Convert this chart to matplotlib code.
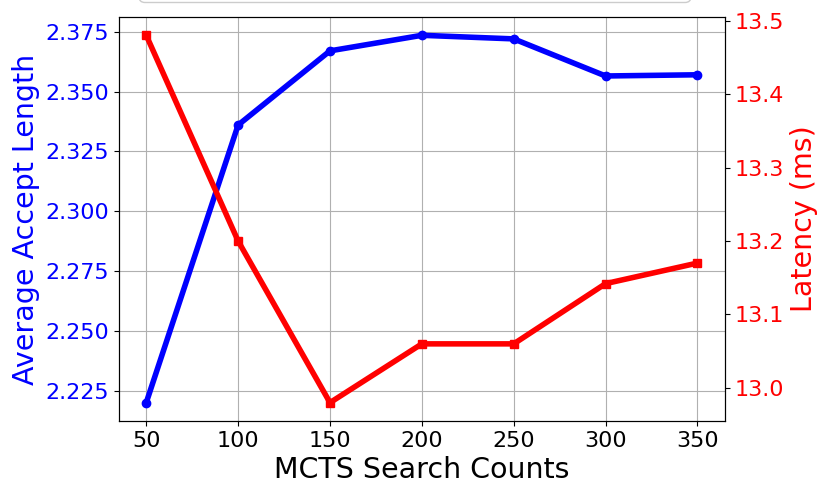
import matplotlib
matplotlib.use('Agg')
import matplotlib.pyplot as plt
from matplotlib.patches import FancyBboxPatch
from matplotlib.ticker import MultipleLocator, FormatStrFormatter

search_counts = [50, 100, 150, 200, 250, 300, 350]
accept_length = [2.220, 2.336, 2.367, 2.3735, 2.372, 2.3565, 2.357]
latency_ms = [13.48, 13.20, 12.98, 13.06, 13.06, 13.142, 13.17]

fig, ax1 = plt.subplots(figsize=(8.3, 4.98), dpi=100)
fig.subplots_adjust(left=0.143, right=0.8735, top=0.966, bottom=0.1546)

ax1.plot(search_counts, accept_length, '-o', color='blue', linewidth=4,
         markersize=6)
ax1.set_xlabel('MCTS Search Counts', fontsize=20.5)
ax1.set_ylabel('Average Accept Length', color='blue', fontsize=20.5)
ax1.tick_params(axis='y', labelcolor='blue', labelsize=16)
ax1.tick_params(axis='x', labelsize=16)
ax1.set_xticks(search_counts)
ax1.yaxis.set_major_locator(MultipleLocator(0.025))
ax1.yaxis.set_major_formatter(FormatStrFormatter('%.3f'))
ax1.grid(True)

ax2 = ax1.twinx()
ax2.plot(search_counts, latency_ms, '-s', color='red', linewidth=4,
         markersize=6)
ax2.set_ylabel('Latency (ms)', color='red', fontsize=20.5)
ax2.tick_params(axis='y', labelcolor='red', labelsize=16)

# frame of a legend that sits above the saved area, only its bottom edge shows
frame = FancyBboxPatch((1.39, 4.955), 5.52, 0.6,
                       boxstyle='round,pad=0,rounding_size=0.06',
                       transform=fig.dpi_scale_trans, facecolor='white',
                       edgecolor='0.8', linewidth=1, clip_on=False)
fig.patches.append(frame)

fig.savefig('out.png', dpi=100)
